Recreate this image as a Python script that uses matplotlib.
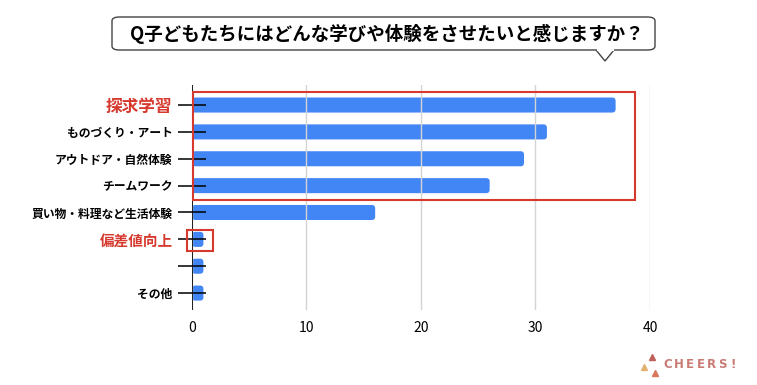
import matplotlib.pyplot as plt
from matplotlib.patches import FancyBboxPatch, Rectangle, Polygon
from matplotlib.lines import Line2D

plt.rcParams['font.family'] = ['Noto Sans CJK JP', 'DejaVu Sans']

# data
categories = ["探求学習", "ものづくり・アート", "アウトドア・自然体験", "チームワーク",
              "買い物・料理など生活体験", "偏差値向上", "", "その他"]
counts = [37, 31, 29, 26, 16, 1, 1, 1]
highlight = ["探求学習", "偏差値向上"]
x_ticks = [0, 10, 20, 30, 40]
title = "Q子どもたちにはどんな学びや体験をさせたいと感じますか？"

fig = plt.figure(figsize=(7.57, 3.85), dpi=100)
ax = fig.add_axes([0.2536, 0.1948, 0.605, 0.584])

ypos = list(range(len(categories)))
bars = ax.barh(ypos, counts, height=0.56, color='#4285F4')

# swap plain bars for rounded ones
aspect = (458 / 40) / (225 / 8.37)
for b in bars:
    x0, y0 = b.get_x(), b.get_y()
    w, h = b.get_width(), b.get_height()
    r = FancyBboxPatch((x0, y0), w, h, boxstyle="round,pad=0,rounding_size=0.3",
                       mutation_aspect=aspect, facecolor='#4285F4',
                       edgecolor='none', zorder=2)
    b.set_visible(False)
    ax.add_patch(r)

ax.set_xlim(0, 40)
ax.set_ylim(7.63, -0.74)
ax.set_xticks(x_ticks)
ax.set_yticks(ypos)
ax.set_yticklabels(categories)
ax.set_axisbelow(False)
ax.grid(axis='x', color='#d4d4d4', linewidth=1)
for gl in ax.get_xgridlines():
    gl.set_zorder(0)
ax.axvline(0, color='black', linewidth=1.2, zorder=4)
for s in ax.spines.values():
    s.set_visible(False)

ax.tick_params(axis='x', length=0, pad=8, labelsize=10)
ax.tick_params(axis='y', direction='inout', length=20, width=1.1, pad=4,
               labelsize=8.5, color='black')
for lbl in ax.get_yticklabels():
    lbl.set_fontweight('bold')
    if lbl.get_text() in highlight:
        lbl.set_color('#d6392e')
        lbl.set_fontsize(12 if lbl.get_text() == "探求学習" else 10.5)

# red highlight boxes
ax.add_patch(Rectangle((0.1, -0.48), 38.6, 4.0, fill=False, edgecolor='#d6392e',
                       linewidth=1.5, clip_on=False, zorder=5))
ax.add_patch(Rectangle((-0.45, 4.65), 2.3, 0.78, fill=False, edgecolor='#d6392e',
                       linewidth=1.5, clip_on=False, zorder=5))

# speech bubble title
W, H = 757, 385
bx0, bx1, by0, by1 = 112 / W, 655 / W, 1 - 50 / H, 1 - 17 / H
bubble = FancyBboxPatch((bx0, by0), bx1 - bx0, by1 - by0,
                        boxstyle="round,pad=0,rounding_size=0.01",
                        transform=fig.transFigure, facecolor='white',
                        edgecolor='#444444', linewidth=1)
fig.add_artist(bubble)
tail = [(596 / W, by0), (605 / W, 1 - 61 / H), (614 / W, by0)]
fig.add_artist(Polygon(tail, closed=False, transform=fig.transFigure,
                       facecolor='white', edgecolor='#444444', linewidth=1))
fig.add_artist(Line2D([597.5 / W, 612.5 / W], [by0, by0], transform=fig.transFigure,
                      color='white', linewidth=1.6))
fig.text((bx0 + bx1) / 2 + 3 / W, (by0 + by1) / 2, title, ha='center', va='center',
         fontsize=13.3, fontweight='bold')

# logo
for i, ch in enumerate("CHEERS!"):
    fig.text((668 + i * 10.8) / W, 1 - 365 / H, ch, ha='center', va='center',
             fontsize=8.5, color='#c97b74', fontweight='bold', family='DejaVu Sans')
for (px, py, c) in [(652, 357, '#c0605a'), (644, 367, '#e2b070'), (655, 373, '#d9775a')]:
    fig.add_artist(Line2D([px / W], [1 - py / H], transform=fig.transFigure,
                          linestyle='none', marker='^', markersize=5, color=c))

fig.savefig('out.png', dpi=100)
